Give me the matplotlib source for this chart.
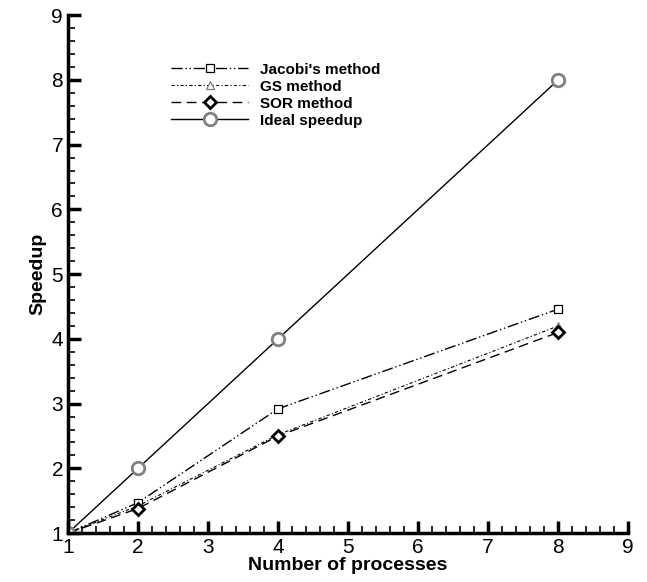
import matplotlib
matplotlib.use("Agg")
import matplotlib.pyplot as plt
from matplotlib.ticker import MultipleLocator

# data
procs = [1, 2, 4, 8]
jacobi = [1.0, 1.47, 2.92, 4.46]
gs = [1.0, 1.42, 2.52, 4.20]
sor = [1.0, 1.38, 2.50, 4.10]
ideal = [1, 2, 4, 8]

plt.rcParams['font.family'] = ['Liberation Sans', 'DejaVu Sans']

fig = plt.figure(figsize=(6.47, 5.82), dpi=100)
ax = fig.add_axes([0.105, 0.084, 0.866, 0.89])

ax.plot(procs, jacobi, color='black', lw=1, linestyle=(0, (8, 2, 1, 2, 1, 2)),
        marker='s', ms=6, mfc='white', mec='black', mew=0.9, label="Jacobi's method")
ax.plot(procs, gs, color='black', lw=0.8, linestyle=(0, (3, 2, 1, 2)),
        marker='^', ms=6, mfc='white', mec='gray', mew=0.9, label='GS method')
ax.plot(procs, sor, color='black', lw=1, linestyle=(0, (7, 4)),
        marker='D', ms=6, mfc='white', mec='black', mew=2, label='SOR method')
ax.plot(procs, ideal, color='black', lw=1, linestyle='-',
        marker='o', ms=9, mfc='white', mec='gray', mew=2, label='Ideal speedup')

ax.set_xlim(1, 9)
ax.set_ylim(1, 9)
ax.xaxis.set_major_locator(MultipleLocator(1))
ax.yaxis.set_major_locator(MultipleLocator(1))
ax.xaxis.set_minor_locator(MultipleLocator(0.2))
ax.yaxis.set_minor_locator(MultipleLocator(0.2))
ax.tick_params(which='major', direction='in', length=9, width=2.5, labelsize=15)
ax.tick_params(which='minor', direction='in', length=5, width=1.2)
ax.spines['top'].set_visible(False)
ax.spines['right'].set_visible(False)
ax.spines['left'].set_linewidth(2.5)
ax.spines['bottom'].set_linewidth(2.5)

ax.set_xlabel('Number of processes', fontsize=14, fontweight='bold', labelpad=0)
ax.set_ylabel('Speedup', fontsize=14, fontweight='bold')

ax.legend(loc='upper left', bbox_to_anchor=(0.16, 0.935), frameon=False,
          prop={'weight': 'bold', 'size': 11}, handlelength=5, labelspacing=0.2)

fig.savefig('out.png', dpi=100)
